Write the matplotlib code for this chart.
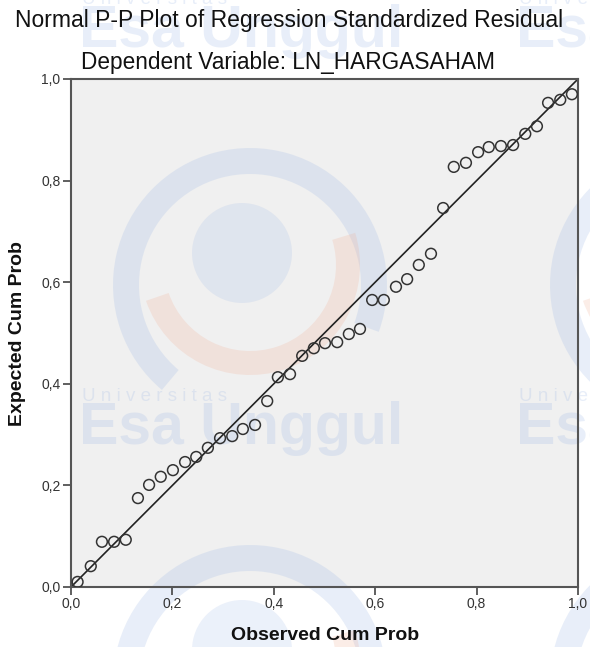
"""
Normal P-P plot of regression standardized residual (SPSS style),
dependent variable LN_HARGASAHAM, with the faint university watermark.
"""

import matplotlib
matplotlib.use("Agg")
import matplotlib.pyplot as plt
from matplotlib.patches import Wedge, Circle, Rectangle

# Observed vs expected cumulative probability
observed = [0.013, 0.039, 0.061, 0.085, 0.108, 0.132, 0.154, 0.177, 0.201,
            0.225, 0.247, 0.270, 0.294, 0.318, 0.339, 0.363, 0.387, 0.408,
            0.432, 0.456, 0.479, 0.501, 0.525, 0.548, 0.570, 0.594, 0.617,
            0.641, 0.663, 0.686, 0.710, 0.734, 0.755, 0.779, 0.803, 0.824,
            0.848, 0.872, 0.896, 0.919, 0.941, 0.965, 0.988]
expected = [0.010, 0.041, 0.089, 0.089, 0.093, 0.175, 0.201, 0.217, 0.230,
            0.246, 0.256, 0.274, 0.293, 0.297, 0.311, 0.319, 0.366, 0.413,
            0.419, 0.455, 0.470, 0.480, 0.482, 0.498, 0.508, 0.565, 0.565,
            0.591, 0.606, 0.634, 0.656, 0.746, 0.827, 0.835, 0.856, 0.866,
            0.868, 0.870, 0.892, 0.907, 0.953, 0.959, 0.970]

ticks = [0.0, 0.2, 0.4, 0.6, 0.8, 1.0]
tick_labels = ["0,0", "0,2", "0,4", "0,6", "0,8", "1,0"]

W, H = 590, 647
plt.rcParams.update({"font.family": ["Liberation Sans", "DejaVu Sans"]})
fig = plt.figure(figsize=(W / 100, H / 100), dpi=100)

# --- background layer (plot face + watermark), in pixel coordinates
bg = fig.add_axes([0, 0, 1, 1], zorder=0)
bg.set_xlim(0, W)
bg.set_ylim(H, 0)
bg.axis("off")

ax_l, ax_r, ax_t, ax_b = 71, 578, 79, 587
bg.add_patch(Rectangle((ax_l, ax_t), ax_r - ax_l, ax_b - ax_t,
                       facecolor="#f0f0f0", edgecolor="none", zorder=0))

WM_BLUE = "#9fb9e6"
WM_SALMON = "#f0ad92"
WM_A = 0.24

# watermark tiles repeat every ~437 px horizontally and ~397 px vertically
for tx in (82, 519):
    for ty in (10, 407):
        bg.text(tx, ty - 2, "U n i v e r s i t a s", fontsize=13.5,
                color=WM_BLUE, alpha=WM_A, ha="left", va="bottom", zorder=1)
        bg.text(tx - 3, ty - 6, "Esa Unggul", fontsize=42.5, fontweight="bold",
                color=WM_BLUE, alpha=WM_A, ha="left", va="top", zorder=1)

for lx in (250, 687):
    for ly in (285, 682):
        bg.add_patch(Wedge((lx, ly), 137, 130, 380, width=26,
                           facecolor=WM_BLUE, alpha=WM_A, edgecolor="none",
                           zorder=1))
        bg.add_patch(Wedge((lx, ly - 20), 110, -17, 161, width=24,
                           facecolor=WM_SALMON, alpha=0.22, edgecolor="none",
                           zorder=1))
        bg.add_patch(Circle((lx - 8, ly - 32), 50, facecolor=WM_BLUE,
                            alpha=0.2, edgecolor="none", zorder=1))

# --- main plot
ax = fig.add_axes([ax_l / W, 1 - ax_b / H, (ax_r - ax_l) / W,
                   (ax_b - ax_t) / H], zorder=1)
ax.set_facecolor("none")

ax.plot([0, 1], [0, 1], color="#222222", lw=1.2, zorder=2)
ax.scatter(observed, expected, s=60, facecolors="none",
           edgecolors="#333333", linewidths=1.1, zorder=3)

ax.set_xlim(0, 1)
ax.set_ylim(0, 1)
ax.set_xticks(ticks)
ax.set_xticklabels(tick_labels)
ax.set_yticks(ticks)
ax.set_yticklabels(tick_labels)
ax.tick_params(direction="out", length=6, width=1.2, color="#444444",
               labelsize=10, labelcolor="#333333", pad=1.5)
for sp in ax.spines.values():
    sp.set_color("#555555")
    sp.set_linewidth(1.5)

# --- titles and axis labels
fig.text(289 / W, 1 - 21 / H,
         "Normal P-P Plot of Regression Standardized Residual",
         ha="center", va="center", fontsize=16.5, color="#111111")
fig.text(288 / W, 1 - 62 / H, "Dependent Variable: LN_HARGASAHAM",
         ha="center", va="center", fontsize=16.3, color="#111111")
fig.text(325 / W, 1 - 636 / H, "Observed Cum Prob", ha="center",
         va="center", fontsize=14, fontweight="bold", color="#111111")
fig.text(18 / W, 1 - 334 / H, "Expected Cum Prob", ha="center",
         va="center", rotation=90, fontsize=14, fontweight="bold",
         color="#111111")

fig.savefig("out.png", dpi=100)
